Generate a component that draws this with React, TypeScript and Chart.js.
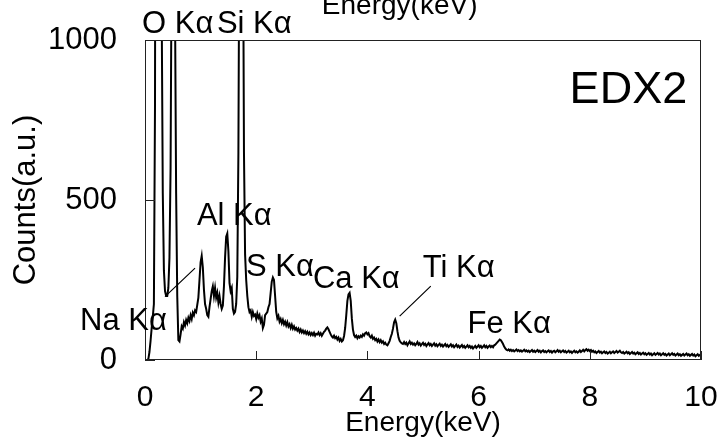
import React, { useEffect, useRef } from 'react';
import { Chart, registerables } from 'chart.js';

Chart.register(...registerables);

// Energy grid step (keV) and counts, 0.00 .. 10.00 keV
const STEP = 0.02;
const counts: number[] = [
  0, 0, 0, 3, 25, 60, 100, 135, 175, 800,
  3500, 6000, 7000, 6500, 4500, 1100, 520, 280, 215, 200,
  200, 225, 320, 600, 1300, 3500, 3500, 1100, 520, 200,
  62, 58, 80, 105, 98, 118, 108, 125, 115, 132,
  122, 140, 128, 148, 140, 155, 150, 172, 195, 250,
  305, 325, 290, 220, 175, 160, 140, 135, 165, 190,
  215, 230, 200, 225, 195, 210, 180, 200, 175, 160,
  170, 230, 320, 385, 395, 340, 240, 215, 225, 160,
  145, 150, 175, 260, 650, 1500, 4000, 4500, 1500, 650,
  330, 250, 200, 165, 150, 155, 135, 150, 138, 142,
  128, 145, 132, 140, 120, 130, 100, 110, 140, 145,
  150, 165, 175, 210, 245, 258, 250, 200, 150, 130,
  138, 120, 128, 115, 125, 112, 120, 108, 118, 105,
  112, 100, 110, 98, 105, 95, 100, 92, 98, 88,
  95, 86, 92, 84, 90, 82, 88, 80, 86, 78,
  84, 78, 85, 76, 82, 80, 86, 78, 84, 76,
  82, 88, 92, 98, 102, 96, 88, 80, 74, 70,
  76, 68, 72, 64, 70, 60, 66, 58, 62, 75,
  100, 140, 185, 205, 210, 185, 130, 95, 78, 72,
  76, 68, 74, 70, 76, 72, 80, 76, 84, 86,
  80, 84, 74, 70, 76, 66, 70, 62, 66, 58,
  64, 56, 62, 54, 58, 50, 54, 48, 46, 52,
  60, 72, 82, 98, 118, 126, 115, 90, 70, 60,
  55, 52, 50, 56, 50, 54, 46, 52, 58, 50,
  54, 48, 52, 46, 50, 56, 48, 52, 45, 50,
  54, 47, 51, 44, 49, 53, 46, 50, 44, 48,
  52, 45, 49, 43, 47, 51, 44, 48, 42, 46,
  50, 43, 47, 41, 45, 49, 42, 46, 40, 44,
  48, 41, 45, 39, 43, 47, 40, 44, 38, 42,
  46, 40, 44, 38, 42, 36, 40, 44, 38, 42,
  46, 40, 44, 38, 42, 46, 40, 44, 38, 42,
  45, 40, 44, 40, 46, 48, 52, 56, 60, 64,
  62, 56, 50, 42, 36, 32, 30, 33, 29, 32,
  28, 31, 27, 30, 33, 28, 31, 27, 30, 26,
  29, 32, 27, 30, 26, 29, 25, 28, 31, 26,
  29, 25, 28, 31, 26, 29, 24, 28, 30, 25,
  28, 24, 27, 30, 25, 28, 23, 27, 29, 24,
  27, 31, 26, 29, 24, 27, 30, 25, 28, 23,
  26, 29, 24, 27, 22, 26, 29, 24, 27, 23,
  26, 30, 25, 28, 32, 27, 31, 34, 29, 32,
  28, 31, 26, 29, 24, 27, 22, 25, 28, 23,
  26, 21, 24, 27, 22, 25, 20, 23, 26, 21,
  24, 27, 22, 25, 28, 23, 26, 29, 24, 22,
  25, 20, 23, 26, 21, 24, 19, 22, 25, 20,
  23, 18, 21, 24, 19, 22, 17, 20, 23, 18,
  21, 16, 19, 22, 17, 20, 15, 18, 21, 16,
  19, 22, 17, 20, 15, 18, 21, 16, 19, 14,
  17, 20, 15, 18, 21, 16, 19, 14, 17, 20,
  15, 18, 13, 16, 19, 14, 17, 20, 15, 18,
  13, 16, 19, 14, 17, 12, 15, 18, 13, 16,
  14,
];
const energies: number[] = counts.map((_, i) => Math.round(i * STEP * 100) / 100);

const xTickValues = [0, 2, 4, 6, 8, 10];
const yTickValues = [0, 500, 1000];

const xTitle = 'Energy(keV)';
const yTitle = 'Counts(a.u.)';
const sampleName = 'EDX2';

// Peak annotations: text and anchor in data units (energy keV, counts)
const peakNames = ['O Kα', 'Si Kα', 'Al Kα', 'S Kα', 'Ca Kα', 'Ti Kα', 'Fe Kα', 'Na Kα'];
const peakLabelE = [-0.054, 1.294, 0.934, 1.815, 3.02, 4.995, 5.80, -1.168];
const peakLabelC = [1022, 1022, 422, 262, 225, 259, 84, 94];
// leader lines [e1, c1, e2, c2]
const leaders = [
  [0.36, 198, 0.90, 287],
  [4.58, 137, 5.14, 231],
];

const FONT = '"Liberation Sans", Arial, Helvetica, sans-serif';

const overlay = {
  id: 'overlay',
  afterDraw(chart: any) {
    const { ctx, chartArea: a, scales } = chart;
    const x = scales.x;
    const y = scales.y;
    ctx.save();
    // frame
    ctx.strokeStyle = '#222';
    ctx.lineWidth = 1;
    ctx.strokeRect(a.left + 0.5, a.top + 0.5, a.right - a.left - 1, a.bottom - a.top - 1);
    // inward ticks
    ctx.beginPath();
    xTickValues.forEach((v) => {
      const px = Math.round(x.getPixelForValue(v)) + 0.5;
      ctx.moveTo(px, a.bottom);
      ctx.lineTo(px, a.bottom - 9);
    });
    yTickValues.forEach((v) => {
      const py = Math.round(y.getPixelForValue(v)) + 0.5;
      ctx.moveTo(a.left, py);
      ctx.lineTo(a.left + 10, py);
    });
    ctx.stroke();
    // leader lines
    ctx.strokeStyle = '#000';
    ctx.lineWidth = 1.2;
    ctx.beginPath();
    leaders.forEach(([e1, c1, e2, c2]) => {
      ctx.moveTo(x.getPixelForValue(e1), y.getPixelForValue(c1));
      ctx.lineTo(x.getPixelForValue(e2), y.getPixelForValue(c2));
    });
    ctx.stroke();
    // peak labels
    ctx.fillStyle = '#000';
    ctx.textAlign = 'left';
    ctx.textBaseline = 'alphabetic';
    ctx.font = `31px ${FONT}`;
    peakNames.forEach((name, i) => {
      ctx.fillText(name, x.getPixelForValue(peakLabelE[i]), y.getPixelForValue(peakLabelC[i]));
    });
    // sample name
    ctx.font = `45px ${FONT}`;
    ctx.fillText(sampleName, x.getPixelForValue(7.637), y.getPixelForValue(803));
    // duplicated (clipped) axis title at the very top
    ctx.font = `28px ${FONT}`;
    ctx.textAlign = 'center';
    ctx.fillText(xTitle, x.getPixelForValue(4.58), y.getPixelForValue(1081));
    ctx.restore();
  },
};

export default function App() {
  const ref = useRef<HTMLCanvasElement | null>(null);
  useEffect(() => {
    if (!ref.current) return;
    const chart = new Chart(ref.current, {
      type: 'line',
      data: {
        datasets: [
          {
            data: energies.map((e, i) => ({ x: e, y: counts[i] })),
            borderColor: '#000',
            borderWidth: 2,
            pointRadius: 0,
            tension: 0,
            fill: false,
          },
        ],
      },
      options: {
        animation: false,
        responsive: false,
        devicePixelRatio: 1,
        layout: { padding: { left: 0, top: 40, right: 23, bottom: 0 } },
        plugins: { legend: { display: false }, tooltip: { enabled: false }, title: { display: false } },
        scales: {
          x: {
            type: 'linear',
            min: 0,
            max: 10,
            afterFit: (s: any) => { s.height = 82; s.paddingLeft = 0; s.paddingRight = 0; },
            afterBuildTicks: (s: any) => { s.ticks = xTickValues.map((v) => ({ value: v })); },
            grid: { display: false, drawTicks: false },
            border: { display: false },
            ticks: { color: '#000', font: { family: FONT, size: 30 }, padding: 20, maxRotation: 0, callback: (v: any) => String(v) },
            title: { display: true, text: xTitle, color: '#000', font: { family: FONT, size: 28 }, padding: { top: 0, bottom: 2 } },
          },
          y: {
            type: 'linear',
            min: 0,
            max: 1000,
            afterFit: (s: any) => { s.width = 145; s.paddingTop = 0; s.paddingBottom = 0; },
            afterBuildTicks: (s: any) => { s.ticks = yTickValues.map((v) => ({ value: v })); },
            grid: { display: false, drawTicks: false },
            border: { display: false },
            ticks: { color: '#000', font: { family: FONT, size: 31 }, padding: 28, callback: (v: any) => String(v) },
            title: { display: true, text: yTitle, color: '#000', font: { family: FONT, size: 31 }, padding: { top: 8, bottom: 0 } },
          },
        },
      },
      plugins: [overlay],
    });
    return () => chart.destroy();
  }, []);
  return (
    <div style={{ position: 'fixed', left: 0, top: 0, width: 724, height: 442, background: '#fff' }}>
      <canvas ref={ref} width={724} height={442} style={{ display: 'block', width: 724, height: 442 }} />
    </div>
  );
}
